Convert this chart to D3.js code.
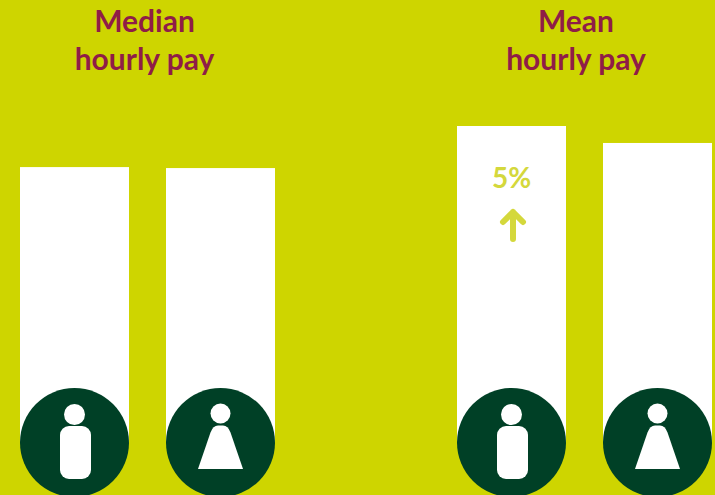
<!DOCTYPE html>
<html>
<head>
<meta charset="utf-8">
<script src="https://cdnjs.cloudflare.com/ajax/libs/d3/7.8.5/d3.min.js"></script>
<style>
  html, body { margin: 0; padding: 0; background: #ced500; overflow: hidden; }
  svg { display: block; }
  text { font-family: Lato, "Open Sans", sans-serif; font-weight: 700; text-anchor: middle; }
</style>
</head>
<body>
<div id="chart"></div>
<script>
// Pay values are estimates
const groups = ['Median', 'Mean'];
const genders = ['male', 'female'];
const medianPay = [13.33, 13.29];
const meanPay = [15.0, 14.31];
const titleLines = ['hourly pay'];
const gapLabel = '5%';

const width = 715, height = 495;
const barWidth = 109, iconRadius = 54.5, badgeY = 442.5;
const bg = '#ced500', dark = '#004026', titleColor = '#8f1d47', accent = '#d4d83c';

const svg = d3.select('#chart').append('svg')
    .attr('width', width)
    .attr('height', height);

svg.append('rect')
    .attr('width', width)
    .attr('height', height)
    .attr('fill', bg);

// Scales
const y = d3.scaleLinear().domain([0, 15]).range([495, 126]);
const xGroup = d3.scalePoint().domain(groups).range([74.5, 511.5]);
const xGender = d3.scalePoint().domain(genders).range([0, 146]);
const titleX = d3.scalePoint().domain(groups).range([144.5, 576]);

const rows = [];
groups.forEach(function(g) {
    const vals = g === 'Median' ? medianPay : meanPay;
    genders.forEach(function(s, i) {
        rows.push({ group: g, gender: s, val: vals[i] });
    });
});

function cx(d) { return xGroup(d.group) + xGender(d.gender); }

// Bars stop behind the middle of the badge
svg.selectAll('.bar')
    .data(rows)
  .enter().append('rect')
    .attr('class', 'bar')
    .attr('x', function(d) { return cx(d) - barWidth / 2; })
    .attr('y', function(d) { return y(d.val); })
    .attr('width', barWidth)
    .attr('height', function(d) { return badgeY - y(d.val); })
    .attr('fill', '#fff');

// Round badges with the person icons
const badge = svg.selectAll('.badge')
    .data(rows)
  .enter().append('g')
    .attr('class', 'badge')
    .attr('transform', function(d) { return 'translate(' + cx(d) + ',' + badgeY + ')'; });

badge.append('circle')
    .attr('r', iconRadius)
    .attr('fill', dark);

badge.append('circle')
    .attr('cx', 0)
    .attr('cy', function(d) { return d.gender === 'male' ? -28 : -29; })
    .attr('r', function(d) { return d.gender === 'male' ? 10.5 : 10; })
    .attr('fill', '#fff');

badge.filter(function(d) { return d.gender === 'male'; })
  .append('rect')
    .attr('x', -14.5)
    .attr('y', -16.5)
    .attr('width', 31)
    .attr('height', 53)
    .attr('rx', 9)
    .attr('fill', '#fff');

badge.filter(function(d) { return d.gender === 'female'; })
  .append('path')
    .attr('d', 'M-22.5,26.5 L22.5,26.5 L10,-10 Q7.5,-17 2.5,-17 L-2.5,-17 Q-7.5,-17 -10,-10 Z')
    .attr('fill', '#fff');

// Titles
const title = svg.selectAll('.title')
    .data(groups)
  .enter().append('text')
    .attr('class', 'title')
    .attr('fill', titleColor)
    .attr('font-size', 30);

title.append('tspan')
    .attr('x', function(d) { return titleX(d); })
    .attr('y', 32)
    .text(function(d) { return d; });

title.append('tspan')
    .attr('x', function(d) { return titleX(d); })
    .attr('y', 70)
    .text(titleLines[0]);

// Gap label and arrow on the taller mean bar
const gapX = xGroup('Mean') + xGender('male');

svg.append('text')
    .attr('x', gapX)
    .attr('y', 188)
    .attr('fill', accent)
    .attr('font-size', 28)
    .text(gapLabel);

svg.append('path')
    .attr('transform', 'translate(' + (gapX + 1.5) + ',0)')
    .attr('d', 'M0,239 L0,212 M-10,222 L0,212 L10,222')
    .attr('fill', 'none')
    .attr('stroke', accent)
    .attr('stroke-width', 6)
    .attr('stroke-linecap', 'round')
    .attr('stroke-linejoin', 'round');
</script>
</body>
</html>
